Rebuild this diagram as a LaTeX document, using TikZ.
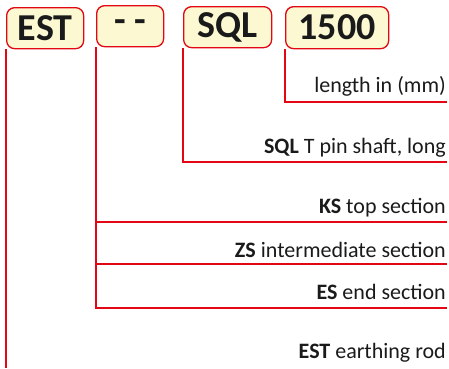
\documentclass[tikz,border=0pt]{standalone}
\usepackage{fontspec}
\setmainfont{Carlito}
\definecolor{lred}{HTML}{E30613}
\definecolor{boxfill}{HTML}{FBF8D2}
\definecolor{txt}{HTML}{1A1A1A}
\begin{document}
\begin{tikzpicture}[x=1pt,y=-1pt,
  codebox/.style={draw=lred,fill=boxfill,line width=1.3pt,rounded corners=8pt,anchor=north west,
    inner sep=0pt,font=\fontsize{38}{40}\selectfont\bfseries,text=txt},
  desc/.style={anchor=base east,inner sep=0pt,font=\fontsize{22}{26}\selectfont,text=txt},
  conn/.style={draw=lred,line width=1.6pt}]
\useasboundingbox (0,0) rectangle (449,368);
\node[codebox,minimum width=77pt,minimum height=41pt] (est) at (6,7) {EST};
\node[codebox,minimum width=67pt,minimum height=41pt] (dash) at (96,5) {- -};
\node[codebox,minimum width=88pt,minimum height=41pt] (sql) at (183,6) {SQL};
\node[codebox,minimum width=103pt,minimum height=42pt] (len) at (285,6) {1500};

\node[desc] (tlen) at (446,92) {length in (mm)};
\node[desc] (tsql) at (446,153) {\textbf{SQL} T pin shaft, long};
\node[desc] (tks) at (446,213) {\textbf{KS} top section};
\node[desc] (tzs) at (446,257) {\textbf{ZS} intermediate section};
\node[desc] (tes) at (446,299) {\textbf{ES} end section};
\node[desc] (test) at (446,358) {\textbf{EST} earthing rod};

\coordinate (r1) at (447,102);
\coordinate (r2) at (447,162);
\coordinate (r3) at (447,222);
\coordinate (r4) at (447,264);
\coordinate (r5) at (447,308);
\coordinate (r6) at (447,368);

\draw[conn] (len.south west) -- (len.south west |- r1) -- (r1);
\draw[conn] (sql.south west) -- (sql.south west |- r2) -- (r2);
\draw[conn] (dash.south west) -- (dash.south west |- r5) -- (r5);
\draw[conn] (dash.south west |- r3) -- (r3);
\draw[conn] (dash.south west |- r4) -- (r4);
\draw[conn] (est.south west) -- (est.south west |- r6);
\end{tikzpicture}
\end{document}
